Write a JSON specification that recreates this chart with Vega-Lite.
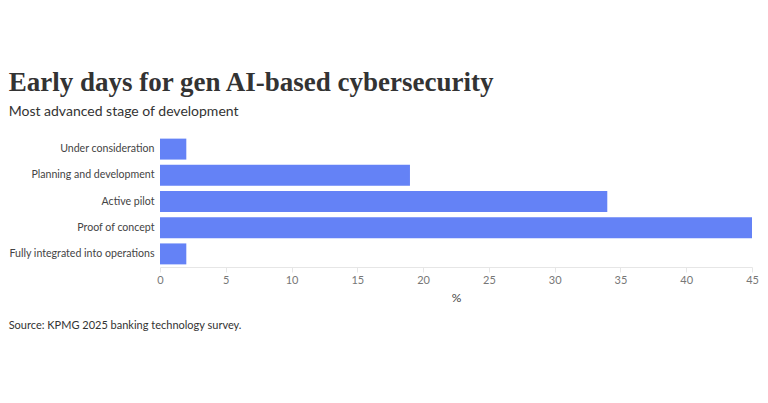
{
  "$schema": "https://vega.github.io/schema/vega-lite/v6.json",
  "background": "white",
  "padding": {"left": 8, "top": 69, "right": 16, "bottom": 5},
  "config": {"view": {"stroke": null}, "font": "Lato"},
  "title": {
    "text": "Early days for gen AI-based cybersecurity",
    "subtitle": "Most advanced stage of development",
    "anchor": "start",
    "frame": "bounds",
    "font": "Liberation Serif",
    "fontSize": 27,
    "fontWeight": "bold",
    "color": "#333333",
    "subtitleFont": "Lato",
    "subtitleFontSize": 14,
    "subtitleColor": "#333333",
    "subtitlePadding": 8,
    "offset": 16
  },
  "vconcat": [
    {
      "width": 592,
      "height": 131,
      "title": {
        "text": "Source: KPMG 2025 banking technology survey.",
        "orient": "bottom",
        "anchor": "start",
        "frame": "bounds",
        "font": "Lato",
        "fontSize": 11,
        "fontWeight": "normal",
        "color": "#333333",
        "offset": 17
      },
      "data": {
        "values": [
          {"stage": "Under consideration", "pct": 2},
          {"stage": "Planning and development", "pct": 19},
          {"stage": "Active pilot", "pct": 34},
          {"stage": "Proof of concept", "pct": 45},
          {"stage": "Fully integrated into operations", "pct": 2}
        ]
      },
      "mark": {"type": "bar", "color": "#6482f6"},
      "encoding": {
        "y": {
          "field": "stage",
          "type": "nominal",
          "sort": null,
          "title": null,
          "scale": {"paddingInner": 0.2, "paddingOuter": 0.1},
          "axis": {"ticks": false, "domain": false, "labelFontSize": 10.6, "labelColor": "#444444", "labelPadding": 6, "labelLimit": 300}
        },
        "x": {
          "field": "pct",
          "type": "quantitative",
          "title": "%",
          "scale": {"domain": [0, 45], "nice": false},
          "axis": {"values": [0, 5, 10, 15, 20, 25, 30, 35, 40, 45], "grid": false, "labelFlush": false, "domainColor": "#e6e6e6", "tickColor": "#e6e6e6", "tickSize": 5, "labelFontSize": 11, "labelColor": "#777777", "labelPadding": 2, "titleFontSize": 12, "titleFontWeight": "normal", "titleColor": "#444444", "titlePadding": 7}
        }
      }
    }
  ]
}
